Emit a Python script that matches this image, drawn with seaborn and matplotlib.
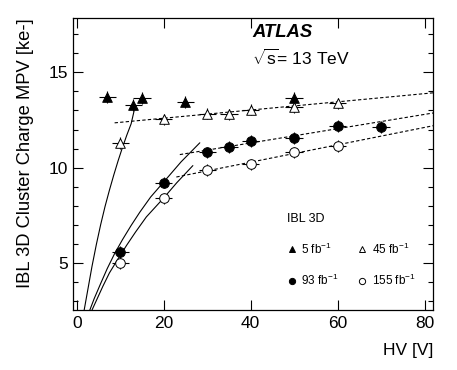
"""
IBL 3D cluster charge MPV vs HV - odtworzenie wykresu ATLAS
"""
import numpy as np
import pandas as pd
import matplotlib
matplotlib.use("Agg")
import matplotlib.pyplot as plt
from matplotlib.lines import Line2D
from matplotlib.ticker import MultipleLocator
import seaborn as sns

# --- dane ---
hv_5 = [7, 13, 15, 25, 50]
mpv_5 = [13.72, 13.28, 13.66, 13.45, 13.68]

hv_45 = [10, 20, 30, 35, 40, 50, 60]
mpv_45 = [11.29, 12.53, 12.84, 12.80, 13.05, 13.16, 13.37]

hv_93 = [10, 20, 30, 35, 40, 50, 60, 70]
mpv_93 = [5.56, 9.21, 10.79, 11.08, 11.40, 11.56, 12.19, 12.14]

hv_155 = [10, 20, 30, 40, 50, 60]
mpv_155 = [4.98, 8.37, 9.86, 10.17, 10.79, 11.14]

hv_err = 2.0
mpv_err = 0.3

# krzywe dopasowania (niskie HV) - punkty
fit5_x = [1.7, 2.6, 3.5, 4.5, 5.5, 6.5, 7.5, 8.5, 9.5, 10.5, 11.5, 12.5, 13.2]
fit5_y = [2.5, 3.65, 4.8, 5.95, 7.0, 7.95, 8.8, 9.6, 10.35, 11.05, 11.7, 12.3, 13.0]
fit93_x = [3.0, 4.0, 5.5, 7.0, 8.7, 10.5, 12.5, 14.5, 17.0, 20.0, 24.0, 28.3]
fit93_y = [2.5, 3.1, 3.9, 4.68, 5.47, 6.2, 6.95, 7.65, 8.45, 9.24, 10.3, 11.3]
fit155_x = [3.5, 4.5, 6.0, 7.5, 9.5, 11.5, 13.5, 16.0, 18.0, 20.0, 23.0, 26.7]
fit155_y = [2.5, 3.0, 3.75, 4.45, 5.2, 5.92, 6.6, 7.4, 7.9, 8.4, 9.2, 10.1]

# proste dopasowania (wysokie HV)
lin45_x = [8.7, 82.0]
lin45_y = [12.35, 13.93]
lin93_x = [23.7, 82.0]
lin93_y = [10.68, 12.87]
lin155_x = [22.9, 82.0]
lin155_y = [9.50, 12.20]

labels = ["5 fb$^{-1}$", "45 fb$^{-1}$", "93 fb$^{-1}$", "155 fb$^{-1}$"]

sns.set_theme(style="ticks")
plt.rcParams["font.family"] = ["Liberation Sans", "DejaVu Sans"]
plt.rcParams["mathtext.fontset"] = "custom"
plt.rcParams["mathtext.rm"] = "Liberation Sans"
plt.rcParams["mathtext.it"] = "Liberation Sans:italic"
plt.rcParams["text.color"] = "black"
plt.rcParams["axes.labelcolor"] = "black"

df = pd.concat([
    pd.DataFrame({"hv": hv_5, "mpv": mpv_5, "lumi": labels[0]}),
    pd.DataFrame({"hv": hv_45, "mpv": mpv_45, "lumi": labels[1]}),
    pd.DataFrame({"hv": hv_93, "mpv": mpv_93, "lumi": labels[2]}),
    pd.DataFrame({"hv": hv_155, "mpv": mpv_155, "lumi": labels[3]}),
], ignore_index=True)

fig = plt.figure(figsize=(4.57, 3.70), dpi=100)
ax = fig.add_axes([0.1604, 0.162, 0.7877, 0.7885])

lw = 0.8
for xs, ys in [(fit5_x, fit5_y), (fit93_x, fit93_y), (fit155_x, fit155_y)]:
    sns.lineplot(x=xs, y=ys, ax=ax, color="black", lw=lw, sort=False,
                 estimator=None, legend=False)
for xs, ys in [(lin45_x, lin45_y), (lin93_x, lin93_y), (lin155_x, lin155_y)]:
    ax.plot(xs, ys, color="black", lw=lw, ls=(0, (3, 2)))

# słupki błędów
ax.errorbar(df["hv"], df["mpv"], xerr=hv_err, yerr=mpv_err, fmt="none",
            ecolor="black", elinewidth=lw, capsize=0, zorder=3)

styles = {
    labels[0]: dict(marker="^", face="black"),
    labels[1]: dict(marker="^", face="white"),
    labels[2]: dict(marker="o", face="black"),
    labels[3]: dict(marker="o", face="white"),
}
for lab, st in styles.items():
    sub = df[df["lumi"] == lab]
    sns.scatterplot(data=sub, x="hv", y="mpv", ax=ax, marker=st["marker"],
                    color=st["face"], edgecolor="black", linewidth=0.7,
                    s=48, zorder=4, legend=False)

ax.set_xlim(-0.8, 82)
ax.set_ylim(2.5, 17.85)
ax.set_xlabel("")
ax.set_ylabel("")
ax.xaxis.set_major_locator(MultipleLocator(20))
ax.yaxis.set_major_locator(MultipleLocator(5))
ax.yaxis.set_minor_locator(MultipleLocator(1))
ax.tick_params(which="both", direction="in", top=True, right=True,
               labelsize=12.5, colors="black", pad=4)
ax.tick_params(which="major", length=7, width=0.8)
ax.tick_params(which="minor", length=3.5, width=0.8)
for sp in ax.spines.values():
    sp.set_color("black")
    sp.set_linewidth(0.9)

ax.text(1.0, -0.137, "HV [V]", transform=ax.transAxes, ha="right",
        va="center", fontsize=12.5)
ax.text(-0.134, 1.0, "IBL 3D Cluster Charge MPV [ke-]", transform=ax.transAxes,
        rotation=90, ha="center", va="top", fontsize=13.2)

ax.text(0.497, 0.951, "ATLAS", transform=ax.transAxes, ha="left", va="center",
        fontsize=13.3, fontweight="bold", fontstyle="italic")
ax.text(0.497, 0.863, r"$\sqrt{\mathrm{s}}$= 13 TeV", transform=ax.transAxes,
        ha="left", va="center", fontsize=12.5)

handles = []
order = [0, 2, 1, 3]
for i in order:
    st = styles[labels[i]]
    handles.append(Line2D([], [], ls="none", marker=st["marker"],
                          markerfacecolor=st["face"], markeredgecolor="black",
                          markeredgewidth=0.7, markersize=4.5,
                          label=labels[i]))
leg = ax.legend(handles=handles, ncol=2, frameon=False, title="IBL 3D",
                loc="upper left", bbox_to_anchor=(0.565, 0.37),
                fontsize=8.5, title_fontsize=9, handlelength=0.8,
                handletextpad=0.4, columnspacing=1.6, labelspacing=1.4,
                alignment="left")
leg._legend_box.sep = 12

plt.savefig("out.png", dpi=100)
plt.close()
